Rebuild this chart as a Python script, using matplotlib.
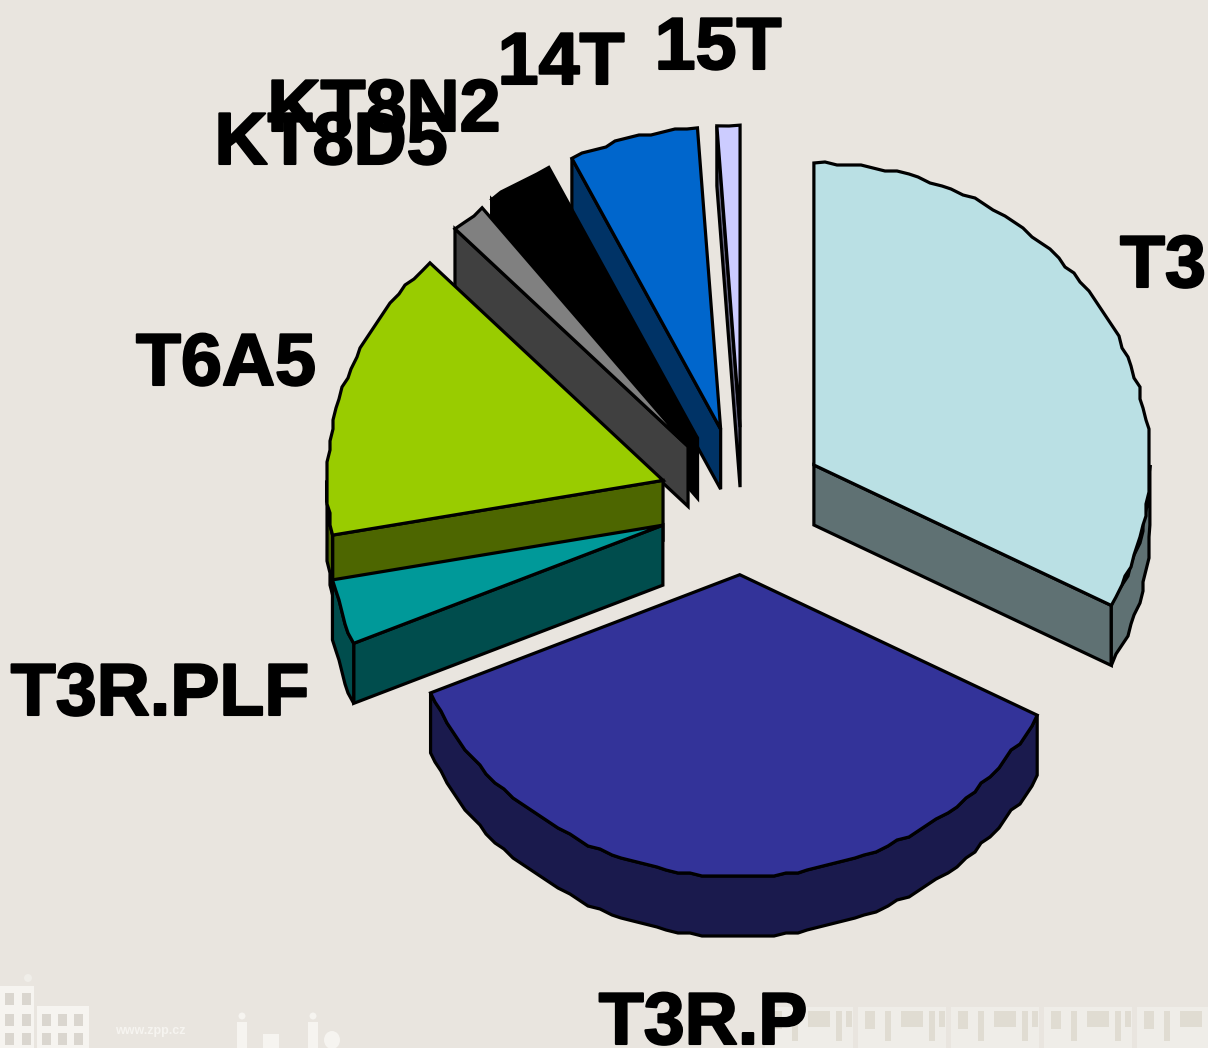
import numpy as np
import matplotlib
matplotlib.use("Agg")
import matplotlib.pyplot as plt
import matplotlib.patheffects as pe
from matplotlib.patches import Rectangle, Ellipse

# Podily jednotlivych vyrobku [%]
labels = ["T3", "T3R.P", "T3R.PLF", "T6A5", "KT8D5", "KT8N2", "14T", "15T"]
values = [32.7, 35.9, 3.5, 15.7, 1.7, 3.2, 6.2, 1.1]

explode = [0.2465, 0.236, 0.249, 0.25, 0.25, 0.255, 0.255, 0.253]
top_colors = ["#BAE0E4", "#333399", "#009999", "#99CC00", "#808080", "#000000", "#0066CC", "#CCCCFF"]
side_colors = ["#5F7173", "#1A1A4D", "#004D4D", "#4D6600", "#404040", "#000000", "#003366", "#666680"]
label_xy = [(1120, 287), (703, 1044), (160, 715), (226, 385), (331, 164), (384, 131), (561, 84), (718, 69)]
label_ha = ["left", "center", "center", "center", "center", "center", "center", "center"]

CX, CY = 743, 503.5
RX, RY = 336, 302
DEPTH = 60
BG = "#E9E5DF"


def arc(ox, oy, a0, a1, jag=True):
    # uhly ve stupnich od 12 hodin po smeru hodin
    n = max(int((a1 - a0) / 2), 2)
    t = np.radians(np.linspace(a0, a1, n + 1))
    x = ox + RX * np.sin(t)
    y = oy - RY * np.cos(t)
    if jag:  # zubaty okraj jako ve starem grafu z PowerPointu
        x[1:-1] = np.round(x[1:-1] / 3) * 3
        y[1:-1] = np.round(y[1:-1] / 3) * 3
    return x, y


def poly(ax, x, y, color, z):
    ax.fill(x, y, facecolor=color, edgecolor="black", lw=2.3, joinstyle="miter", zorder=z)


def draw_slice(ax, a0, a1, exp, top, side, z):
    mid = np.radians((a0 + a1) / 2)
    ox = CX + exp * RX * np.sin(mid)
    oy = CY - exp * RY * np.cos(mid)
    # rezy viditelne zepredu
    for ang, ok in ((a0, 180 < a0 < 360), (a1, 0 < a1 < 180)):
        if ok:
            ex, ey = arc(ox, oy, ang, ang + 1, jag=False)
            poly(ax, [ox, ex[0], ex[0], ox], [oy, ey[0], ey[0] + DEPTH, oy + DEPTH], side, z)
    # vnejsi plast
    lo, hi = max(a0, 90), min(a1, 270)
    if lo < hi:
        ax_, ay_ = arc(ox, oy, lo, hi)
        poly(ax, np.r_[ax_, ax_[::-1]], np.r_[ay_, ay_[::-1] + DEPTH], side, z + 0.1)
    tx, ty = arc(ox, oy, a0, a1)
    poly(ax, np.r_[ox, tx], np.r_[oy, ty], top, z + 0.2)


def watermark(ax):
    # svetly podklad sablony dole
    light = "#F6F4F0"
    for x0, y0, w, h in [(0, 986, 34, 62), (37, 1006, 52, 42)]:
        ax.add_patch(Rectangle((x0, y0), w, h, fc=light, ec="none", zorder=0))
    ax.add_patch(Ellipse((28, 978), 8, 8, fc="#F0EEE9", ec="none", zorder=0))
    for x0 in (5, 22, 42, 58, 74):
        for y0 in (993, 1014, 1033):
            if x0 > 35 and y0 < 1005:
                continue
            ax.add_patch(Rectangle((x0, y0), 9, 12, fc="#DAD6CF", ec="none", zorder=0.1))
    ax.text(150, 1031, "www.zpp.cz", color=light, fontsize=9, ha="center", va="center",
            family="Liberation Sans", weight="bold", zorder=0)
    # postavy
    for x0, y0, w in [(237, 1022, 10), (308, 1022, 10)]:
        ax.add_patch(Rectangle((x0, y0), w, 1048 - y0, fc=light, ec="none", zorder=0))
    for xc in (242, 313):
        ax.add_patch(Ellipse((xc, 1016), 7, 7, fc=light, ec="none", zorder=0))
    ax.add_patch(Rectangle((263, 1034), 16, 14, fc=light, ec="none", zorder=0))
    ax.add_patch(Ellipse((332, 1040), 16, 18, fc=light, ec="none", zorder=0))
    # vlak vpravo
    for x0 in range(810, 1208, 93):
        ax.add_patch(Rectangle((x0 - 45, 1007), 88, 41, fc="#EFEDE8", ec="none", zorder=0))
        for dx, w, h in ((-38, 10, 18), (-18, 6, 30), (-2, 22, 16), (26, 6, 30), (36, 6, 16)):
            ax.add_patch(Rectangle((x0 + dx, 1011), w, h, fc="#E0DCD2", ec="none", zorder=0.1))


def main():
    fig = plt.figure(figsize=(12.08, 10.48), dpi=100, facecolor=BG)
    ax = fig.add_axes([0, 0, 1, 1])
    ax.set_xlim(0, 1208)
    ax.set_ylim(1048, 0)
    ax.axis("off")

    watermark(ax)

    edges = np.r_[0, np.cumsum(values)] / np.sum(values) * 360
    # poradi kresleni: od zadnich dilu k prednim
    order = [7, 6, 5, 4, 3, 2, 0, 1]
    for z, i in enumerate(order, start=1):
        draw_slice(ax, edges[i], edges[i + 1], explode[i], top_colors[i], side_colors[i], z)

    for i, lab in enumerate(labels):
        ax.text(label_xy[i][0], label_xy[i][1], lab, ha=label_ha[i], va="baseline",
                family="Liberation Sans", weight="bold", fontsize=53, color="black", zorder=20,
                path_effects=[pe.withStroke(linewidth=1.5, foreground="black")])

    fig.savefig("out.png", dpi=100, facecolor=BG)
    plt.close(fig)


if __name__ == "__main__":
    main()
